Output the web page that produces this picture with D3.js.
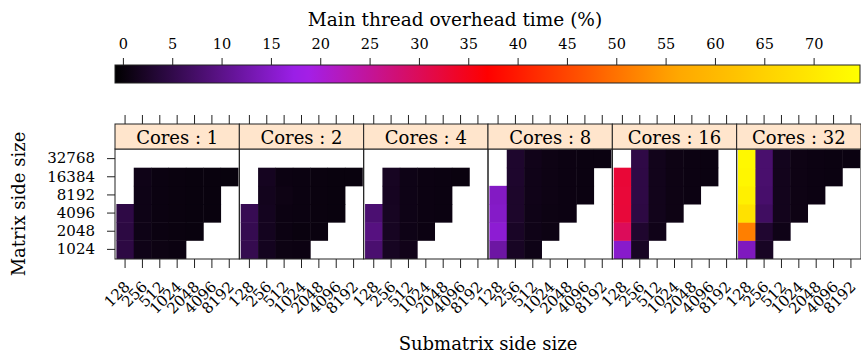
<!DOCTYPE html>
<html>
<head>
<meta charset="utf-8">
<script src="https://cdnjs.cloudflare.com/ajax/libs/d3/7.8.5/d3.min.js"></script>
<style>
  body { margin: 0; background: #fff; overflow: hidden; }
  svg { display: block; }
  svg text { font-family: "DejaVu Serif", serif; fill: #000; }
</style>
</head>
<body>
<div id="chart"></div>
<script>
// chart size
var svgWidth = 861;
var svgHeight = 361;

// data: rows are matrix side size (1024 .. 32768), columns are submatrix side size
var cores = [1, 2, 4, 8, 16, 32];
var matrixSizes = [1024, 2048, 4096, 8192, 16384, 32768];
var subSizes = [128, 256, 512, 1024, 2048, 4096, 8192];
var colorTicks = [0, 5, 10, 15, 20, 25, 30, 35, 40, 45, 50, 55, 60, 65, 70];
var colorRange = [-0.8, 74.7];

var overheadC1 = [
  [4.5, 1.0, 0.7, 0.5, null, null, null],
  [4.4, 0.9, 0.5, 0.4, 0.3, null, null],
  [4.6, 0.9, 0.5, 0.4, 0.3, 0.3, null],
  [null, 0.9, 0.5, 0.4, 0.3, 0.3, null],
  [null, 1.0, 0.5, 0.4, 0.3, 0.3, 0.2],
  [null, null, null, null, null, null, null]
];
var overheadC2 = [
  [5.4, 1.6, 0.7, 0.6, null, null, null],
  [5.5, 1.6, 0.6, 0.4, 0.4, null, null],
  [5.7, 1.6, 0.6, 0.5, 0.4, 0.3, null],
  [null, 1.5, 0.8, 0.5, 0.4, 0.3, null],
  [null, 1.7, 0.6, 0.5, 0.4, 0.3, 0.3],
  [null, null, null, null, null, null, null]
];
var overheadC4 = [
  [7.9, 1.9, 1.2, null, null, null, null],
  [9.3, 1.9, 0.9, 0.6, null, null, null],
  [8.1, 1.9, 0.9, 0.6, 0.5, null, null],
  [null, 1.8, 0.9, 0.6, 0.5, null, null],
  [null, 1.9, 0.9, 0.6, 0.5, 0.4, null],
  [null, null, null, null, null, null, null]
];
var overheadC8 = [
  [12.0, 2.0, 0.9, null, null, null, null],
  [15.8, 2.2, 1.0, 0.7, null, null, null],
  [14.9, 2.6, 1.0, 0.7, 0.6, null, null],
  [14.6, 2.6, 1.1, 0.8, 0.6, 0.5, null],
  [null, 2.7, 1.1, 0.8, 0.6, 0.5, null],
  [null, 2.7, 1.2, 0.8, 0.6, 0.5, 0.5]
];
var overheadC16 = [
  [15.2, 2.0, null, null, null, null, null],
  [29.9, 2.8, 1.1, null, null, null, null],
  [32.4, 4.5, 1.3, 0.8, null, null, null],
  [32.5, 4.6, 1.3, 0.8, 0.6, null, null],
  [32.6, 4.6, 1.3, 0.8, 0.6, 0.5, null],
  [null, 4.7, 1.3, 0.8, 0.6, 0.5, null]
];
var overheadC32 = [
  [14.2, 2.0, null, null, null, null, null],
  [51.5, 3.0, 1.0, null, null, null, null],
  [68.5, 6.8, 1.4, 0.8, null, null, null],
  [71.5, 7.6, 1.4, 0.8, 0.6, null, null],
  [72.8, 7.8, 1.4, 0.8, 0.6, 0.5, null],
  [73.3, 7.8, 1.5, 0.8, 0.6, 0.5, 0.5]
];
var overhead = [overheadC1, overheadC2, overheadC4, overheadC8, overheadC16, overheadC32];

// layout
var plotLeft = 115, plotRight = 861;
var stripTop = 124, panelTop = 149, panelBottom = 259;
var panelW = (plotRight - plotLeft) / cores.length;

var svg = d3.select("#chart").append("svg")
  .attr("width", svgWidth)
  .attr("height", svgHeight);

// colour scale: black -> purple -> red -> orange -> yellow
var colorStops = d3.range(5).map(i => colorRange[0] + i * (colorRange[1] - colorRange[0]) / 4);
var color = d3.scaleLinear()
  .domain(colorStops)
  .range(["#000000", "#a020f0", "#ff0000", "#ffa500", "#ffff00"])
  .interpolate(d3.interpolateRgb);

// ---- colour key ----
var keyX = d3.scaleLinear().domain(colorRange).range([115, 860]);
var defs = svg.append("defs");
var grad = defs.append("linearGradient").attr("id", "keygrad");
d3.range(0, 1.0001, 0.02).forEach(function(t) {
  grad.append("stop")
    .attr("offset", t)
    .attr("stop-color", color(colorRange[0] + t * (colorRange[1] - colorRange[0])));
});
svg.append("rect")
  .attr("x", keyX.range()[0]).attr("y", 65)
  .attr("width", keyX.range()[1] - keyX.range()[0]).attr("height", 18)
  .attr("fill", "url(#keygrad)")
  .attr("stroke", "#222").attr("stroke-width", 1);

var keyAxis = svg.append("g")
  .attr("transform", "translate(0,65)")
  .call(d3.axisTop(keyX).tickValues(colorTicks).tickSize(7).tickPadding(9));
keyAxis.select(".domain").remove();
keyAxis.selectAll("text").style("font-size", "14.5px").style("font-family", "DejaVu Serif");
keyAxis.selectAll("line").attr("stroke", "#222");

svg.append("text")
  .attr("x", 455).attr("y", 26)
  .attr("text-anchor", "middle")
  .style("font-size", "18.5px")
  .text("Main thread overhead time (%)");

// ---- panels ----
var y = d3.scaleBand()
  .domain(matrixSizes.slice().reverse())
  .range([panelTop, panelBottom])
  .paddingOuter(0.03);

cores.forEach(function(c, p) {
  var x0 = plotLeft + p * panelW;
  var x = d3.scaleBand().domain(subSizes).range([x0, x0 + panelW]).paddingOuter(0.08);
  var g = svg.append("g");

  // cells
  var cells = [];
  overhead[p].forEach(function(row, i) {
    row.forEach(function(v, j) {
      if (v !== null) cells.push({m: matrixSizes[i], s: subSizes[j], v: v});
    });
  });
  g.selectAll("rect.cell")
    .data(cells)
    .enter()
    .append("rect")
    .attr("class", "cell")
    .attr("x", d => x(d.s))
    .attr("y", d => y(d.m))
    .attr("width", x.bandwidth() + 0.5)
    .attr("height", y.bandwidth() + 0.5)
    .attr("fill", d => color(d.v));

  // panel border
  g.append("rect")
    .attr("x", x0).attr("y", panelTop)
    .attr("width", panelW).attr("height", panelBottom - panelTop)
    .attr("fill", "none").attr("stroke", "#222");

  // strip
  g.append("rect")
    .attr("x", x0).attr("y", stripTop)
    .attr("width", panelW).attr("height", panelTop - stripTop)
    .attr("fill", "#ffe5cc").attr("stroke", "#222");
  g.append("text")
    .attr("x", x0 + panelW / 2).attr("y", 144)
    .attr("text-anchor", "middle")
    .style("font-size", "18px")
    .text("Cores : " + c);

  // top ticks
  var top = g.append("g")
    .attr("transform", `translate(0,${stripTop})`)
    .call(d3.axisTop(x).tickSize(9).tickFormat(""));
  top.select(".domain").remove();
  top.selectAll("line").attr("stroke", "#222");

  // bottom axis with rotated labels
  var bottom = g.append("g")
    .attr("transform", `translate(0,${panelBottom})`)
    .call(d3.axisBottom(x).tickSize(9));
  bottom.select(".domain").remove();
  bottom.selectAll("line").attr("stroke", "#222");
  bottom.selectAll("text")
    .attr("y", 0).attr("x", 0).attr("dy", "0.35em")
    .attr("transform", "translate(2,25) rotate(-45)")
    .style("text-anchor", "end")
    .style("font-size", "15px")
    .style("font-family", "DejaVu Serif");
});

// y axis
var left = svg.append("g")
  .attr("transform", `translate(${plotLeft},0)`)
  .call(d3.axisLeft(y).tickSize(8).tickPadding(12));
left.select(".domain").remove();
left.selectAll("line").attr("stroke", "#222");
left.selectAll("text").style("font-size", "15px").style("font-family", "DejaVu Serif");

// axis titles
svg.append("text")
  .attr("x", plotLeft + (plotRight - plotLeft) / 2).attr("y", 350)
  .attr("text-anchor", "middle")
  .style("font-size", "18px")
  .text("Submatrix side size");

svg.append("text")
  .attr("transform", `translate(25,${(panelTop + panelBottom) / 2}) rotate(-90)`)
  .attr("text-anchor", "middle")
  .style("font-size", "18px")
  .text("Matrix side size");
</script>
</body>
</html>
